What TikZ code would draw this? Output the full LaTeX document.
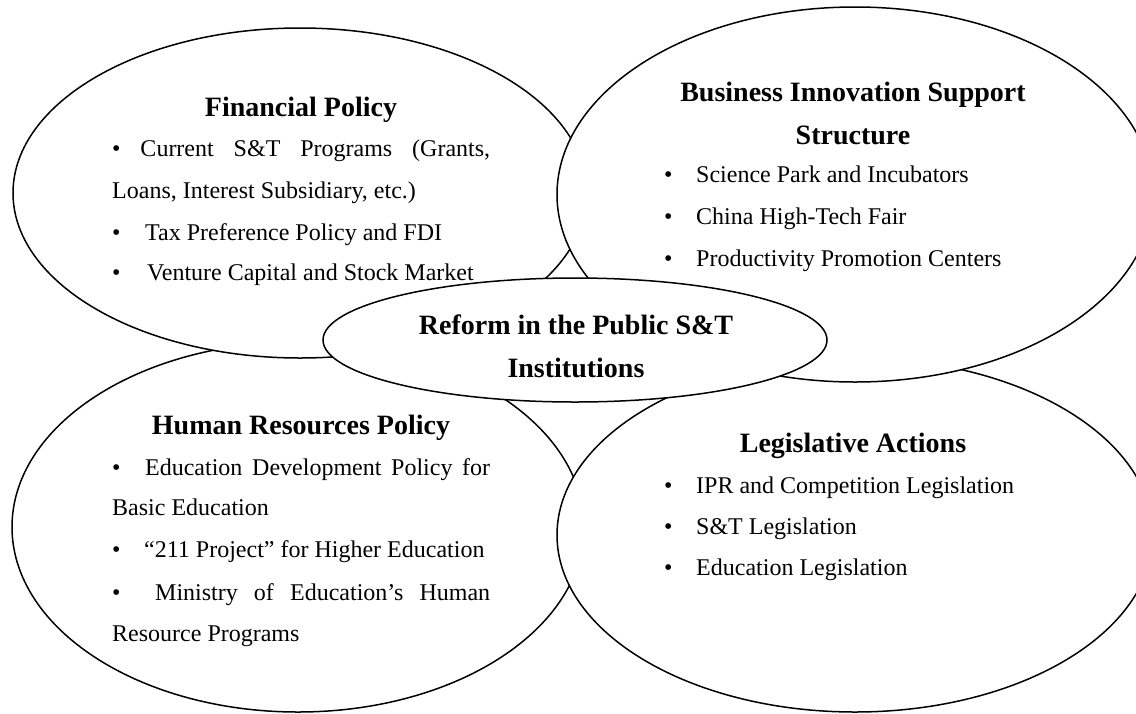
\documentclass[tikz,border=0pt]{standalone}
\usepackage{fontspec}
\setmainfont{Liberation Serif}
\begin{document}
\begin{tikzpicture}[x=1pt,y=-1pt,
  bubble/.style={draw=black,fill=white,line width=1.5pt},
  ttl/.style={font=\fontsize{28}{32}\selectfont\bfseries,inner sep=0pt,anchor=base},
  txt/.style={font=\fontsize{24}{28}\selectfont,inner sep=0pt,anchor=base west}]
\useasboundingbox (0,0) rectangle (1136,713);
% bottom-left
\draw[bubble] (298,527) ellipse [x radius=286,y radius=185];
\node[ttl] (hrt) at (301,434) {Human Resources Policy};
\node[txt] (hr1) at (112,475) {\makebox[33pt][l]{•}\makebox[345pt][s]{Education Development Policy for}};
\node[txt] (hr2) at (112,515) {Basic Education};
\node[txt] (hr3) at (112,557) {\makebox[32pt][l]{•}“211 Project” for Higher Education};
\node[txt] (hr4) at (112,600) {\makebox[43pt][l]{•}\makebox[335pt][s]{Ministry of Education’s Human}};
\node[txt] (hr5) at (112,641) {Resource Programs};
% top-left
\draw[bubble] (300,193) ellipse [x radius=287,y radius=165];
\node[ttl] (fpt) at (301,116) {Financial Policy};
\node[txt] (fp1) at (112,156) {\makebox[378pt][s]{• Current S\&T Programs (Grants,}};
\node[txt] (fp2) at (112,198) {Loans, Interest Subsidiary, etc.)};
\node[txt] (fp3) at (112,240) {\makebox[33pt][l]{•}Tax Preference Policy and FDI};
\node[txt] (fp4) at (112,280) {\makebox[35pt][l]{•}Venture Capital and Stock Market};
% bottom-right
\draw[bubble] (855,535) ellipse [x radius=298,y radius=177];
\node[ttl] (lat) at (853,452) {Legislative Actions};
\node[txt] (la1) at (664,493) {\makebox[32pt][l]{•}IPR and Competition Legislation};
\node[txt] (la2) at (664,534) {\makebox[32pt][l]{•}S\&T Legislation};
\node[txt] (la3) at (664,575) {\makebox[32pt][l]{•}Education Legislation};
% top-right
\draw[bubble] (855,194.5) ellipse [x radius=298,y radius=187.5];
\node[ttl] (bit) at (853,101) {Business Innovation Support};
\node[ttl] (bis) at (853,144) {Structure};
\node[txt] (bi1) at (664,182) {\makebox[32pt][l]{•}Science Park and Incubators};
\node[txt] (bi2) at (664,224) {\makebox[32pt][l]{•}China High-Tech Fair};
\node[txt] (bi3) at (664,266) {\makebox[32pt][l]{•}Productivity Promotion Centers};
% center
\draw[bubble] (575,340) ellipse [x radius=252,y radius=62];
\node[ttl] (rf1) at (576,334) {Reform in the Public S\&T};
\node[ttl] (rf2) at (576,377) {Institutions};
\end{tikzpicture}
\end{document}
